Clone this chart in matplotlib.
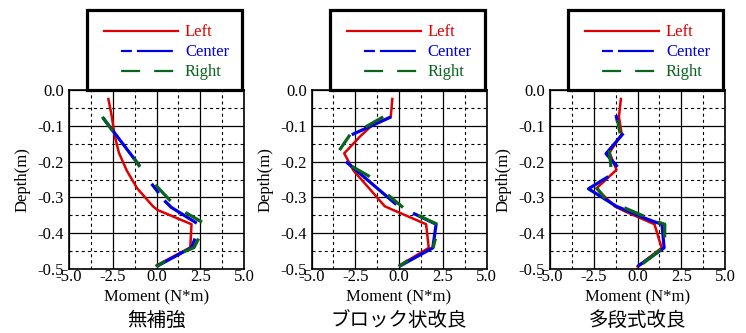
import numpy as np
import matplotlib
matplotlib.use("Agg")
import matplotlib.pyplot as plt
from matplotlib.lines import Line2D
from matplotlib.patches import Rectangle
from matplotlib.ticker import FormatStrFormatter, FixedLocator

plt.rcParams['font.family'] = ['Liberation Serif', 'DejaVu Serif']
plt.rcParams['lines.scale_dashes'] = False

nan = np.nan

titles = ["無補強", "ブロック状改良", "多段式改良"]
series_labels = ["Left", "Center", "Right"]

# Panel 1: 無補強
left_x1 = [-2.75, -2.55, -2.4, -2.15, -1.7, -1.1, -0.2, 0.05, 2.0, 1.93, 0.0]
left_d1 = [-0.025, -0.075, -0.125, -0.175, -0.225, -0.275, -0.325, -0.335, -0.375, -0.44, -0.49]
center_x1 = [-3.05, -0.95, nan, -0.28, 0.13, nan, 0.45, 0.85, 2.3, nan, 2.2, 2.0, 0.0]
center_d1 = [-0.078, -0.213, nan, -0.262, -0.288, nan, -0.309, -0.328, -0.372, nan, -0.415, -0.44, -0.493]
right_x1 = [-3.1, -2.5, nan, -1.3, -0.95, nan, -0.06, 0.8, nan, 1.65, 2.6, nan, 2.4, 2.15, 1.55, nan, 0.5, 0.0]
right_d1 = [-0.075, -0.115, nan, -0.19, -0.215, nan, -0.265, -0.31, nan, -0.342, -0.369, nan, -0.415, -0.44, -0.452, nan, -0.478, -0.493]

# Panel 2: ブロック状改良
left_x2 = [-0.38, -0.47, -1.57, -2.23, -3.13, -2.6, -1.7, -0.81, -0.15, 1.55, 1.7, 0.04]
left_d2 = [-0.025, -0.075, -0.1, -0.13, -0.177, -0.225, -0.275, -0.325, -0.339, -0.375, -0.441, -0.49]
center_x2 = [-0.45, -2.7, nan, -3.03, -0.15, nan, 0.8, 2.12, 1.93, 0.0]
center_d2 = [-0.075, -0.125, nan, -0.2, -0.32, nan, -0.344, -0.375, -0.441, -0.493]
right_x2 = [-0.9, -1.9, nan, -2.8, -3.4, nan, -2.7, -1.67, nan, -0.63, 0.23, nan, 1.08, 2.18, nan, 2.08, 1.95, nan, 0.51, 0.0]
right_d2 = [-0.075, -0.103, nan, -0.125, -0.168, nan, -0.213, -0.242, nan, -0.293, -0.328, nan, -0.35, -0.375, nan, -0.415, -0.441, nan, -0.476, -0.493]

# Panel 3: 多段式改良
left_x3 = [-0.95, -1.06, -0.9, -1.6, -1.2, -2.35, -1.3, -0.72, 0.97, 1.38, 0.0]
left_d3 = [-0.025, -0.075, -0.123, -0.175, -0.223, -0.275, -0.325, -0.339, -0.375, -0.441, -0.493]
center_x3 = [-1.23, -1.14, nan, -0.81, -1.8, -1.14, nan, -1.67, -2.8, -1.2, 0.42, 0.9, 1.4, 1.52, 0.0]
center_d3 = [-0.07, -0.089, nan, -0.121, -0.178, -0.215, nan, -0.242, -0.276, -0.325, -0.358, -0.367, -0.375, -0.441, -0.493]
right_x3 = [-1.14, -1.0, nan, -1.61, -1.52, nan, -2.35, -1.85, nan, -0.75, 0.35, nan, 1.18, 1.56, 1.55, nan, 1.35, 0.3]
right_d3 = [-0.084, -0.121, nan, -0.168, -0.215, nan, -0.272, -0.303, nan, -0.329, -0.352, nan, -0.369, -0.375, -0.412, nan, -0.445, -0.485]

panels = [
    (left_x1, left_d1, center_x1, center_d1, right_x1, right_d1),
    (left_x2, left_d2, center_x2, center_d2, right_x2, right_d2),
    (left_x3, left_d3, center_x3, center_d3, right_x3, right_d3),
]

x_ticks = [-5.0, -2.5, 0.0, 2.5, 5.0]
x_minor = [-3.75, -1.25, 1.25, 3.75]
y_ticks = [0.0, -0.1, -0.2, -0.3, -0.4, -0.5]
y_minor = [-0.05, -0.15, -0.25, -0.35, -0.45]

RED = '#e00000'
BLUE = '#0000e6'
GREEN = '#0a641e'

W, H = 746, 333
fig = plt.figure(figsize=(W / 100, H / 100), dpi=100)

ax_lefts = [69, 311.5, 550]
ax_w = 175
ax_top, ax_bot = 90, 269

def fx(px):
    return px / W

def fy(py):
    return 1 - py / H

for i, (lx, ld, cx, cd, rx, rd) in enumerate(panels):
    L = ax_lefts[i]
    ax = fig.add_axes([fx(L), fy(ax_bot), ax_w / W, (ax_bot - ax_top) / H])
    ax.set_xlim(-5, 5)
    ax.set_ylim(-0.5, 0)
    ax.xaxis.set_major_locator(FixedLocator(x_ticks))
    ax.xaxis.set_minor_locator(FixedLocator(x_minor))
    ax.yaxis.set_major_locator(FixedLocator(y_ticks))
    ax.yaxis.set_minor_locator(FixedLocator(y_minor))
    ax.xaxis.set_major_formatter(FormatStrFormatter('%.1f'))
    ax.yaxis.set_major_formatter(FormatStrFormatter('%.1f'))
    ax.tick_params(which='both', length=0, labelsize=12)
    ax.tick_params(axis='x', pad=0)
    ax.tick_params(axis='y', pad=3.5)
    ax.grid(which='major', color='black', lw=0.9, ls='-')
    ax.grid(which='minor', color='black', lw=0.8, ls=(0, (2.2, 2.2)))
    ax.set_axisbelow(True)
    for s in ax.spines.values():
        s.set_linewidth(1.2)

    ax.plot(lx, ld, color=RED, lw=1.8, zorder=3)
    ax.plot(cx, cd, color=BLUE, lw=2.3, zorder=4, solid_capstyle='butt')
    ax.plot(rx, rd, color=GREEN, lw=2.3, zorder=5, solid_capstyle='butt')

    ax.set_xlabel("Moment (N*m)", fontsize=12, labelpad=3)
    ax.set_ylabel("Depth(m)", fontsize=12, labelpad=5)

    fig.text(fx(L + ax_w / 2), fy(320), titles[i], ha='center', va='center',
             fontsize=14, family=['Noto Sans CJK JP', 'DejaVu Sans'])

    # legend box
    fig.add_artist(Rectangle((fx(L + 18), fy(ax_top)), 155 / W, 80 / H,
                             transform=fig.transFigure, fill=False,
                             edgecolor='black', lw=2.3, zorder=10))
    handles = [
        Line2D([], [], color=RED, lw=1.6),
        Line2D([], [], color=BLUE, lw=1.6, ls=(41, (7.9, 3.6, 25.9, 15.8))),
        Line2D([], [], color=GREEN, lw=1.6, ls=(41, (13.7, 10.1, 13.7, 15.8))),
    ]
    fig.legend(handles, series_labels, loc='upper left',
               bbox_to_anchor=(fx(L + 35), fy(24.5)), bbox_transform=fig.transFigure,
               frameon=False, fontsize=12, handlelength=4.44, handletextpad=0.42,
               labelspacing=0.24, borderpad=0, borderaxespad=0,
               labelcolor='linecolor')

fig.savefig("out.png", dpi=100)
